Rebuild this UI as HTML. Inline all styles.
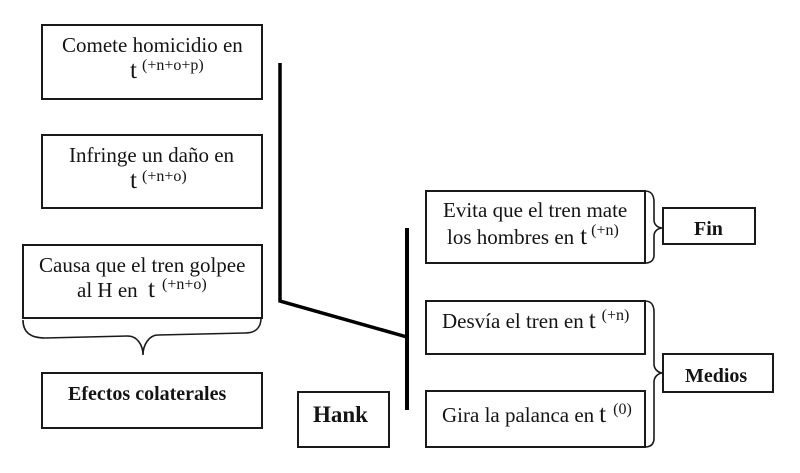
<!DOCTYPE html>
<html>
<head>
<meta charset="utf-8">
<style>
  html,body{margin:0;padding:0;background:#fff;}
  svg{display:block;}
  text{font-family:"Liberation Serif","Times New Roman",serif;fill:#141414;}
  .n{font-size:21px;}
  .t{font-size:25px;}
  .s{font-size:16px;}
  .b{font-size:20px;font-weight:bold;}
</style>
</head>
<body>
<svg width="800" height="473" viewBox="0 0 800 473" xmlns="http://www.w3.org/2000/svg">
  <rect x="0" y="0" width="800" height="473" fill="#fff"/>
  <g fill="none" stroke="#1a1a1a" stroke-width="2">
    <rect x="42" y="25" width="220" height="74"/>
    <rect x="42" y="135" width="220" height="73"/>
    <rect x="23" y="245" width="239" height="73"/>
    <rect x="42" y="373" width="220" height="55"/>
    <rect x="298" y="392" width="91" height="55"/>
    <rect x="426" y="191" width="219" height="72"/>
    <rect x="426" y="301" width="219" height="53"/>
    <rect x="426" y="391" width="219" height="56"/>
    <rect x="663" y="208" width="92" height="36"/>
    <rect x="663" y="354" width="110" height="38"/>
  </g>
  <g fill="none" stroke="#1a1a1a" stroke-width="1.6">
    <path d="M23,320 C23,332 30,338 45,338 L128,336 C137,336 143,345 143,355 C143,345 149,335 158,335 L245,333 C255,333 261,328 261,318"/>
    <path d="M645,191 C651,191 654,195 654,202 L654,220 C654,225 658,228 663,228 C658,228 654,231 654,236 L654,255 C654,260 651,263 645,263"/>
    <path d="M645,301 C651,301 654,305 654,312 L654,364 C654,369 658,373 663,373 C658,373 654,377 654,382 L654,438 C654,444 651,447 645,447"/>
  </g>
  <g fill="none" stroke="#000" stroke-width="3.5" stroke-linejoin="miter">
    <polyline points="280,63 280,301 407,337"/>
    <line x1="407" y1="228" x2="407" y2="410" stroke-width="4"/>
  </g>

  <text class="n" x="62" y="52">Comete homicidio en</text>
  <text class="t" x="130" y="78">t</text>
  <text class="s" x="142" y="70">(+n+o+p)</text>

  <text class="n" x="69" y="162">Infringe un daño en</text>
  <text class="t" x="130" y="188">t</text>
  <text class="s" x="142" y="181">(+n+o)</text>

  <text class="n" x="39" y="272">Causa que el tren golpee</text>
  <text class="n" x="77" y="297">al H en</text>
  <text class="t" x="148" y="297">t</text>
  <text class="s" x="162" y="289">(+n+o)</text>

  <text class="b" x="68" y="400">Efectos colaterales</text>
  <text class="b" x="313" y="422" style="font-size:23px">Hank</text>

  <text class="n" x="443" y="217">Evita que el tren mate</text>
  <text class="n" x="447" y="244">los hombres en<tspan class="t" dx="6">t</tspan><tspan class="s" dx="4" dy="-9">(+n)</tspan></text>

  <text class="n" x="442" y="328">Desvía el tren en<tspan class="t" dx="5">t</tspan><tspan class="s" dx="6" dy="-8">(+n)</tspan></text>

  <text class="n" x="442" y="422">Gira la palanca en<tspan class="t" dx="5">t</tspan><tspan class="s" dx="7" dy="-8">(0)</tspan></text>

  <text class="b" x="694" y="235">Fin</text>
  <text class="b" x="685" y="382">Medios</text>
</svg>
</body>
</html>
